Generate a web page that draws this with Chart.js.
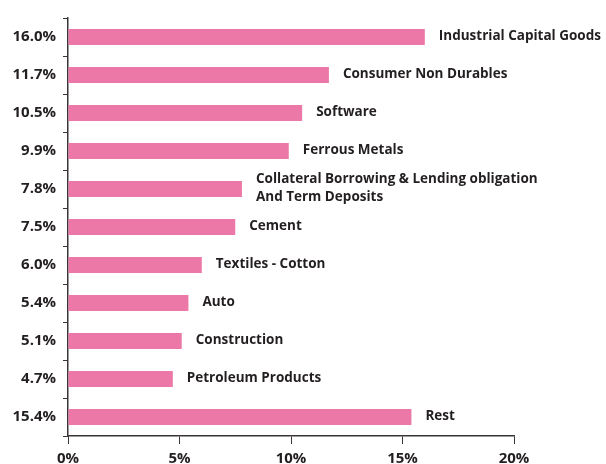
<!DOCTYPE html>
<html>
<head>
<meta charset="utf-8">
<script src="https://cdn.jsdelivr.net/npm/chart.js@4"></script>
<style>
  body { margin: 0; background: #fff; }
  #wrap { width: 606px; height: 464px; }
</style>
</head>
<body>
<div id="wrap"><canvas id="myChart"></canvas></div>
<script>
const ctx = document.getElementById('myChart');

const sectors = [
  ['Industrial Capital Goods'],
  ['Consumer Non Durables'],
  ['Software'],
  ['Ferrous Metals'],
  ['Collateral Borrowing & Lending obligation', 'And Term Deposits'],
  ['Cement'],
  ['Textiles - Cotton'],
  ['Auto'],
  ['Construction'],
  ['Petroleum Products'],
  ['Rest']
];
const weights = [16.0, 11.7, 10.5, 9.9, 7.8, 7.5, 6.0, 5.4, 5.1, 4.7, 15.4];
const pctLabels = weights.map(v => v.toFixed(1) + '%');

const textColor = '#231f20';
const axisColor = '#3a3536';
const font = "'Open Sans', sans-serif";

// names written just after the end of each bar
const sectorNames = {
  id: 'sectorNames',
  afterDatasetsDraw(chart) {
    const c = chart.ctx;
    const bars = chart.getDatasetMeta(0).data;
    c.save();
    c.font = 'bold 13.5px ' + font;
    c.fillStyle = textColor;
    c.textAlign = 'left';
    c.textBaseline = 'middle';
    bars.forEach((bar, i) => {
      const lines = sectors[i];
      const lh = 18;
      const y0 = bar.y - (lines.length - 1) * lh / 2 - 1;
      lines.forEach((t, j) => c.fillText(t, bar.x + 14, y0 + j * lh));
    });
    c.restore();
  }
};

const data = {
  labels: pctLabels,
  datasets: [{
    data: weights,
    backgroundColor: '#ec78a8',
    categoryPercentage: 1,
    barPercentage: 0.42
  }]
};

const config = {
  type: 'bar',
  data: data,
  plugins: [sectorNames],
  options: {
    indexAxis: 'y',
    responsive: true,
    maintainAspectRatio: false,
    animation: false,
    layout: { padding: { top: 18, right: 92, left: 0, bottom: 0 } },
    plugins: { legend: { display: false }, tooltip: { enabled: false } },
    scales: {
      x: {
        min: 0,
        max: 20,
        ticks: {
          stepSize: 5,
          callback: v => v + '%',
          color: textColor,
          font: { family: font, size: 15, weight: 'bold' },
          padding: 6
        },
        grid: { drawOnChartArea: false, tickLength: 8, color: axisColor },
        border: { color: axisColor, width: 1.5 },
        afterFit: s => { s.height = 28; }
      },
      y: {
        ticks: {
          color: textColor,
          font: { family: font, size: 15, weight: 'bold' },
          padding: 7
        },
        grid: { drawOnChartArea: false, tickLength: 5, color: axisColor, offset: true },
        border: { color: axisColor, width: 1.5 },
        afterFit: s => { s.width = 68; }
      }
    }
  }
};

new Chart(ctx, config);
</script>
</body>
</html>
